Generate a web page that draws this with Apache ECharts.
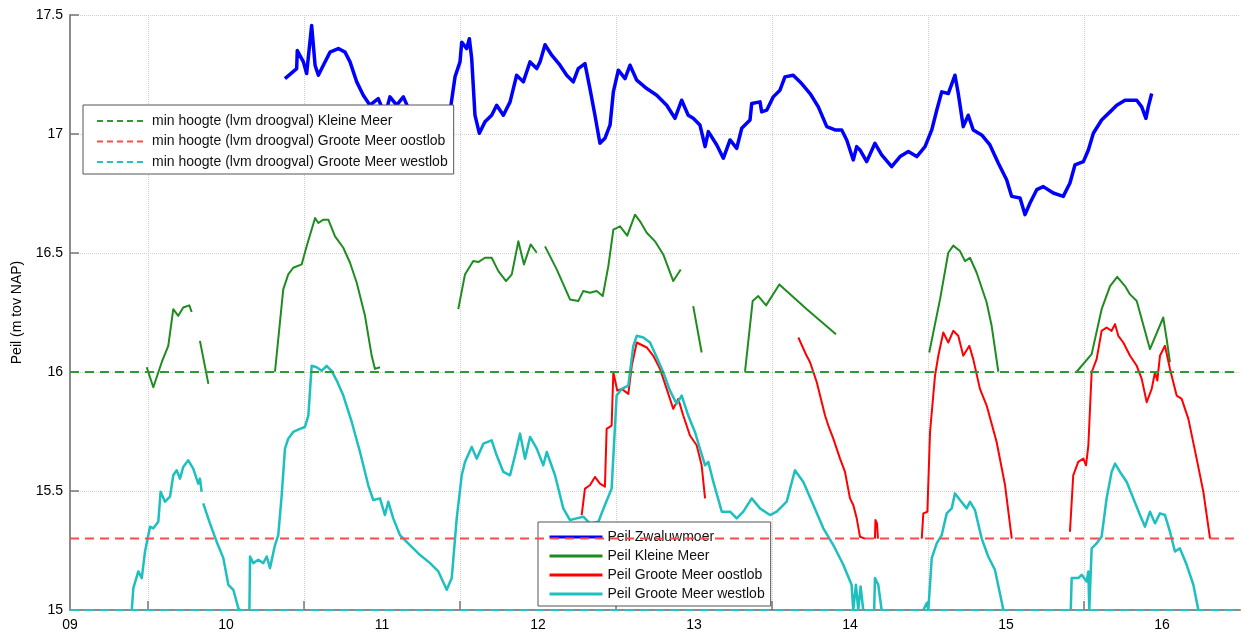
<!DOCTYPE html>
<html>
<head>
<meta charset="utf-8">
<script src="https://cdn.jsdelivr.net/npm/echarts@6/dist/echarts.min.js"></script>
<style>
  html, body { margin: 0; padding: 0; background: #fff; }
  #chart { width: 1242px; height: 632px; }
</style>
</head>
<body>
<div id="chart"></div>
<script>
// x axis: year (09 .. 16), labels at whole years, grid lines halfway
const tickYears = [9, 10, 11, 12, 13, 14, 15, 16];
const tickLabels = ['09', '10', '11', '12', '13', '14', '15', '16'];
const gridYears = [9.5, 10.5, 11.5, 12.5, 13.5, 14.5, 15.5];

// min hoogte (lvm droogval): Kleine Meer, Groote Meer oostlob, Groote Meer westlob
const thresholdNames = [
  'min hoogte (lvm droogval) Kleine Meer',
  'min hoogte (lvm droogval) Groote Meer oostlob',
  'min hoogte (lvm droogval) Groote Meer westlob'
];
const thresholds = [16.0, 15.3, 15.0];

// Peil Zwaluwmoer
const zwaluwmoer = [
  [10.378,17.233],[10.453,17.275],[10.457,17.351],[10.496,17.303],[10.517,17.254],[10.549,17.456],[10.571,17.289],
  [10.592,17.247],[10.624,17.289],[10.667,17.344],[10.720,17.359],[10.763,17.344],[10.795,17.303],[10.838,17.219],
  [10.880,17.163],[10.923,17.121],[10.976,17.149],[11.019,17.079],[11.051,17.156],[11.094,17.121],[11.137,17.156],
  [11.179,17.093],[11.233,17.108],[11.287,17.087],[11.329,17.093],[11.372,17.066],[11.410,17.024],[11.436,17.093],
  [11.468,17.240],[11.500,17.303],[11.511,17.386],[11.543,17.359],[11.560,17.400],[11.575,17.317],[11.596,17.079],
  [11.624,17.003],[11.660,17.051],[11.703,17.079],[11.735,17.121],[11.778,17.079],[11.821,17.135],[11.863,17.247],
  [11.906,17.219],[11.949,17.303],[11.992,17.275],[12.013,17.303],[12.045,17.375],[12.088,17.331],[12.141,17.289],
  [12.184,17.247],[12.226,17.219],[12.258,17.275],[12.301,17.296],[12.333,17.191],[12.365,17.079],[12.397,16.961],
  [12.429,16.982],[12.462,17.038],[12.483,17.177],[12.515,17.268],[12.558,17.233],[12.590,17.289],[12.633,17.226],
  [12.697,17.191],[12.761,17.163],[12.825,17.121],[12.878,17.066],[12.921,17.142],[12.963,17.079],[12.995,17.066],
  [13.038,17.038],[13.071,16.947],[13.092,17.010],[13.146,16.954],[13.188,16.898],[13.231,16.975],[13.274,16.940],
  [13.306,17.024],[13.359,17.059],[13.370,17.128],[13.423,17.135],[13.434,17.093],[13.466,17.100],[13.508,17.156],
  [13.551,17.184],[13.583,17.240],[13.636,17.247],[13.690,17.212],[13.744,17.170],[13.797,17.114],[13.851,17.031],
  [13.904,17.017],[13.947,17.017],[13.979,16.975],[14.021,16.891],[14.043,16.947],[14.064,16.933],[14.107,16.884],
  [14.160,16.961],[14.203,16.912],[14.267,16.863],[14.321,16.905],[14.374,16.926],[14.428,16.905],[14.481,16.947],
  [14.524,17.017],[14.556,17.100],[14.588,17.177],[14.630,17.170],[14.673,17.247],[14.694,17.170],[14.726,17.031],
  [14.758,17.079],[14.790,17.017],[14.844,16.996],[14.897,16.954],[14.951,16.877],[15.004,16.808],[15.036,16.738],
  [15.090,16.731],[15.122,16.661],[15.154,16.710],[15.197,16.766],[15.239,16.779],[15.303,16.752],[15.367,16.738],
  [15.410,16.794],[15.442,16.870],[15.496,16.884],[15.528,16.933],[15.560,17.003],[15.613,17.059],[15.667,17.093],
  [15.710,17.121],[15.763,17.142],[15.838,17.142],[15.870,17.114],[15.897,17.066],[15.912,17.114],[15.934,17.170]
];

// Peil Kleine Meer (pieces with missing data between them)
const kleineMeer = [
  [[9.492,16.020],[9.534,15.936],[9.588,16.041],[9.630,16.110],[9.662,16.264],[9.694,16.236],[9.726,16.271],[9.765,16.280],[9.780,16.252]],
  [[9.833,16.131],[9.887,15.950]],
  [[10.314,16.001],[10.367,16.347],[10.399,16.410],[10.431,16.438],[10.485,16.452],[10.517,16.528],[10.571,16.647],[10.592,16.626],
   [10.624,16.640],[10.656,16.640],[10.699,16.570],[10.752,16.522],[10.795,16.459],[10.838,16.375],[10.891,16.236],[10.934,16.068],
   [10.955,16.013],[10.987,16.020]],
  [[11.489,16.264],[11.532,16.410],[11.585,16.466],[11.617,16.462],[11.660,16.480],[11.703,16.480],[11.746,16.424],[11.795,16.382],
   [11.832,16.410],[11.874,16.549],[11.910,16.452],[11.953,16.536],[11.992,16.501]],
  [[12.045,16.528],[12.120,16.431],[12.205,16.305],[12.258,16.298],[12.290,16.340],[12.333,16.333],[12.376,16.340],[12.415,16.319],
   [12.451,16.445],[12.483,16.598],[12.526,16.612],[12.572,16.573],[12.622,16.661],[12.654,16.633],[12.697,16.585],[12.750,16.549],
   [12.803,16.494],[12.867,16.382],[12.915,16.431]],
  [[12.995,16.277],[13.049,16.082]],
  [[13.327,16.001],[13.376,16.298],[13.412,16.319],[13.462,16.280],[13.547,16.368],[13.723,16.264],[13.910,16.159]],
  [[14.508,16.082],[14.577,16.305],[14.630,16.501],[14.662,16.531],[14.705,16.508],[14.737,16.466],[14.769,16.480],[14.812,16.417],
   [14.876,16.292],[14.908,16.194],[14.951,16.001]],
  [[15.453,16.001],[15.549,16.075],[15.613,16.264],[15.667,16.361],[15.713,16.400],[15.763,16.361],[15.795,16.326],[15.838,16.298],
   [15.923,16.096],[16.008,16.229],[16.030,16.138],[16.051,16.041]]
];

// Peil Groote Meer oostlob
const oostlob = [
  [[12.280,15.399],[12.301,15.510],[12.333,15.524],[12.365,15.559],[12.397,15.531],[12.429,15.518],[12.440,15.761],[12.472,15.775],
   [12.483,15.999],[12.508,15.922],[12.537,15.929],[12.579,15.908],[12.601,16.026],[12.633,16.124],[12.697,16.103],[12.739,16.068],
   [12.782,16.013],[12.825,15.929],[12.867,15.845],[12.899,15.887],[12.931,15.817],[12.974,15.733],[13.017,15.692],[13.049,15.608],
   [13.071,15.469]],
  [[13.669,16.145],[13.722,16.068],[13.744,16.041],[13.787,15.957],[13.840,15.817],[13.861,15.775],[13.893,15.720],[13.936,15.636],
   [13.968,15.580],[14.000,15.469],[14.021,15.441],[14.043,15.385],[14.064,15.308],[14.096,15.300]],
  [[14.160,15.300],[14.163,15.378],[14.173,15.364],[14.179,15.300]],
  [[14.460,15.300],[14.470,15.406],[14.496,15.413],[14.513,15.748],[14.545,15.985],[14.566,16.068],[14.598,16.166],[14.630,16.124],
   [14.662,16.173],[14.694,16.152],[14.726,16.068],[14.765,16.110],[14.790,16.054],[14.833,15.929],[14.876,15.859],[14.940,15.706],
   [14.994,15.524],[15.037,15.300]],
  [[15.410,15.329],[15.431,15.566],[15.463,15.622],[15.496,15.636],[15.513,15.608],[15.528,15.692],[15.549,15.999],[15.581,16.054],
   [15.613,16.173],[15.645,16.187],[15.677,16.173],[15.699,16.201],[15.720,16.152],[15.752,16.124],[15.795,16.068],[15.838,16.026],
   [15.870,15.971],[15.902,15.873],[15.934,15.929],[15.955,15.999],[15.970,15.964],[15.987,16.068],[16.019,16.110],[16.051,16.013],
   [16.094,15.901],[16.126,15.887],[16.169,15.803],[16.222,15.636],[16.265,15.497],[16.308,15.300]]
];

// Peil Groote Meer westlob
const westlob = [
  [[9.396,15.000],[9.406,15.092],[9.438,15.162],[9.460,15.134],[9.481,15.246],[9.513,15.350],[9.534,15.343],[9.566,15.371],
   [9.581,15.497],[9.609,15.455],[9.641,15.476],[9.662,15.566],[9.684,15.587],[9.705,15.552],[9.726,15.601],[9.758,15.629],
   [9.790,15.594],[9.822,15.531],[9.833,15.552],[9.844,15.497]],
  [[9.854,15.448],[9.897,15.364],[9.940,15.287],[9.983,15.218],[10.015,15.106],[10.047,15.085],[10.079,15.008],[10.090,15.000]],
  [[10.150,15.000],[10.154,15.225],[10.175,15.197],[10.207,15.211],[10.239,15.197],[10.261,15.225],[10.282,15.176],[10.314,15.273],
   [10.335,15.315],[10.357,15.482],[10.378,15.678],[10.399,15.720],[10.431,15.748],[10.474,15.761],[10.506,15.769],[10.528,15.817],
   [10.549,16.026],[10.581,16.020],[10.613,16.005],[10.645,16.026],[10.677,16.005],[10.710,15.964],[10.752,15.901],[10.806,15.790],
   [10.859,15.664],[10.912,15.524],[10.944,15.462],[10.987,15.469],[11.019,15.399],[11.040,15.455],[11.072,15.385],[11.115,15.315],
   [11.179,15.273],[11.244,15.231],[11.308,15.197],[11.361,15.162],[11.415,15.085],[11.447,15.134],[11.479,15.385],[11.511,15.566],
   [11.532,15.622],[11.575,15.685],[11.607,15.636],[11.650,15.699],[11.703,15.713],[11.735,15.650],[11.778,15.580],[11.821,15.566],
   [11.853,15.650],[11.885,15.741],[11.917,15.636],[11.949,15.727],[11.992,15.678],[12.034,15.608],[12.056,15.664],[12.109,15.566],
   [12.162,15.427],[12.205,15.378],[12.248,15.385],[12.290,15.392],[12.333,15.364],[12.387,15.371],[12.429,15.441],[12.472,15.510],
   [12.504,15.901],[12.537,15.929],[12.579,15.943],[12.611,16.110],[12.633,16.152],[12.675,16.145],[12.718,16.124],[12.761,16.062],
   [12.803,15.999],[12.846,15.922],[12.889,15.866],[12.921,15.901],[12.963,15.817],[13.006,15.748],[13.038,15.678],[13.071,15.608],
   [13.092,15.622],[13.124,15.538],[13.178,15.413],[13.231,15.413],[13.274,15.385],[13.316,15.413],[13.370,15.469],[13.423,15.427],
   [13.487,15.399],[13.530,15.413],[13.594,15.455],[13.647,15.587],[13.701,15.538],[13.765,15.441],[13.829,15.343],[13.893,15.273],
   [13.957,15.190],[14.010,15.106],[14.021,15.000],[14.038,15.106],[14.053,15.000],[14.068,15.099],[14.085,15.000]],
  [[14.155,15.000],[14.160,15.134],[14.181,15.106],[14.203,15.000]],
  [[14.470,15.000],[14.492,15.029],[14.502,15.000],[14.524,15.218],[14.556,15.280],[14.588,15.315],[14.620,15.406],[14.652,15.427],
   [14.673,15.490],[14.705,15.462],[14.748,15.427],[14.769,15.455],[14.801,15.420],[14.844,15.301],[14.886,15.225],[14.929,15.169],
   [14.972,15.036],[14.983,15.000]],
  [[15.415,15.000],[15.421,15.134],[15.463,15.134],[15.485,15.148],[15.517,15.120],[15.528,15.162],[15.534,15.000],[15.543,15.000],
   [15.549,15.259],[15.581,15.280],[15.613,15.308],[15.645,15.469],[15.677,15.580],[15.699,15.615],[15.731,15.580],[15.774,15.538],
   [15.816,15.469],[15.859,15.399],[15.891,15.350],[15.923,15.413],[15.955,15.364],[15.987,15.406],[16.019,15.399],[16.051,15.329],
   [16.083,15.246],[16.115,15.259],[16.158,15.190],[16.201,15.106],[16.233,15.000]]
];

const peilNames = ['Peil Zwaluwmoer', 'Peil Kleine Meer', 'Peil Groote Meer oostlob', 'Peil Groote Meer westlob'];

const FONT = '"Liberation Sans", Arial, sans-serif';

// join pieces, putting an empty point between them so the line breaks
const withGaps = ( pieces ) => {
	const out = [];
	pieces.forEach( ( piece, i ) => {
		if ( i > 0 ) {
			out.push( [ piece[0][0], '-' ] );
		}
		piece.forEach( ( p ) => out.push( p ) );
	} );
	return out;
};

const lineSeries = ( name, data, color, width ) => ( {
	name,
	type: 'line',
	data,
	symbol: 'none',
	connectNulls: false,
	lineStyle: { color, width, join: 'round' },
	itemStyle: { color },
	z: 3
} );

const chart = echarts.init( document.getElementById( 'chart' ), null, { renderer: 'canvas' } );

const thresholdColors = [ '#2f9a2f', '#ff4a4a', '#22c4c4' ];

const series = [
	lineSeries( peilNames[0], zwaluwmoer, '#0000ff', 3.5 ),
	lineSeries( peilNames[1], withGaps( kleineMeer ), '#1f8c1f', 2 ),
	lineSeries( peilNames[2], withGaps( oostlob ), '#ff0000', 2 ),
	lineSeries( peilNames[3], withGaps( westlob ), '#1ebfbf', 2.5 )
];
thresholds.forEach( ( t, i ) => {
	series.push( {
		name: thresholdNames[i],
		type: 'line',
		data: [ [ 9, t ], [ 16.5, t ] ],
		symbol: 'none',
		lineStyle: { color: thresholdColors[i], width: 2, type: [ 9, 6 ] },
		itemStyle: { color: thresholdColors[i] },
		z: 4
	} );
} );

// legend boxes: line icon only, no symbol dot
const legendBox = ( data, left, top, itemWidth, itemGap, padding, lineStyle ) => ( {
	data,
	orient: 'vertical',
	left,
	top,
	itemWidth,
	itemHeight: 14,
	itemGap,
	padding,
	backgroundColor: '#fff',
	borderColor: '#555',
	borderWidth: 1,
	borderRadius: 0,
	selectedMode: false,
	itemStyle: { opacity: 0 },
	lineStyle,
	textStyle: { fontFamily: FONT, fontSize: 14, color: '#111' }
} );

chart.setOption( {
	animation: false,
	backgroundColor: '#fff',
	textStyle: { fontFamily: FONT },
	grid: { left: 70, right: 2, top: 15, bottom: 20, containLabel: false },
	legend: [
		legendBox( thresholdNames, 83, 105, 50, 6.5, [ 9, 6, 5, 13 ], { width: 2, type: [ 6, 4 ] } ),
		legendBox( peilNames, 538, 522, 53, 5, [ 8, 6, 5, 10 ], { width: 3 } )
	],
	xAxis: {
		type: 'value',
		min: 9,
		max: 16.5,
		interval: 0.5,
		axisLine: { show: true, onZero: false, lineStyle: { color: '#8c8c8c', width: 2 } },
		axisTick: {
			show: true,
			inside: true,
			length: 9,
			customValues: gridYears,
			lineStyle: { color: '#777', width: 1.5 }
		},
		axisLabel: {
			customValues: tickYears,
			margin: 8,
			fontSize: 14,
			color: '#000',
			fontFamily: FONT,
			formatter: ( v ) => {
				const i = tickYears.indexOf( v );
				return i >= 0 ? tickLabels[i] : '';
			}
		},
		splitLine: { show: true, lineStyle: { color: '#cfcfcf', width: 1, type: 'dotted' } }
	},
	yAxis: {
		type: 'value',
		min: 15,
		max: 17.5,
		interval: 0.5,
		name: 'Peil (m tov NAP)',
		nameLocation: 'middle',
		nameGap: 46,
		nameTextStyle: { fontFamily: FONT, fontSize: 14, color: '#000' },
		axisLine: { show: true, lineStyle: { color: '#8c8c8c', width: 2 } },
		axisTick: { show: true, inside: true, length: 9, lineStyle: { color: '#777', width: 1.5 } },
		axisLabel: { fontSize: 14, color: '#000', margin: 7, fontFamily: FONT },
		splitLine: { show: true, lineStyle: { color: '#cfcfcf', width: 1, type: 'dotted' } }
	},
	series
} );
</script>
</body>
</html>
